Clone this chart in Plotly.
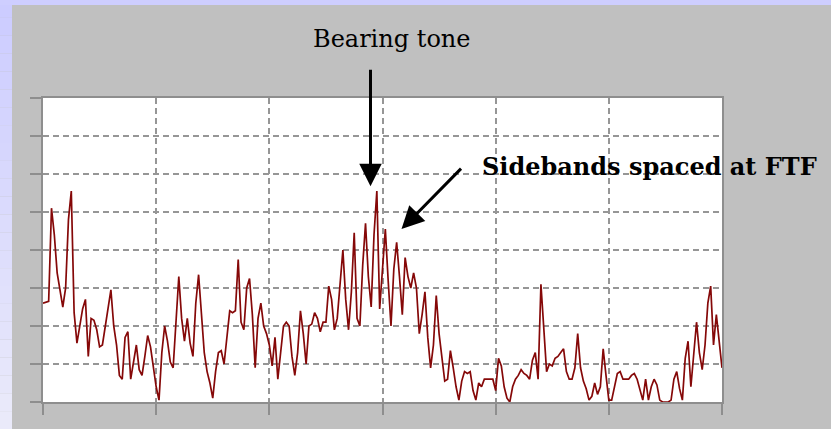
import plotly.graph_objects as go

# ---- data (amplitude in grid units, uniform frequency bins) ----
freq_step = 0.025
amp_part1 = [2.6, 2.62, 2.65, 5.1, 4.4, 3.4, 2.9, 2.5, 3.0, 4.8,
             5.55, 2.35, 1.55, 1.95, 2.45, 2.7, 1.2, 2.2, 2.15, 1.9,
             1.45, 1.5, 2.0, 2.5, 2.95, 2.0, 1.5, 0.7, 0.6, 1.7,
             1.85, 0.6, 1.0, 1.5, 0.85, 0.7, 1.2, 1.75, 1.45, 0.9,
             0.4, 0.05, 1.3, 2.0, 1.6, 1.05, 0.9, 2.1, 3.3, 2.2,
             1.6, 2.2, 1.55, 1.2, 2.6, 3.35, 2.3, 1.3, 0.8, 0.5]
amp_part2 = [0.1, 0.8, 1.3, 1.35, 1.0, 1.7, 2.4, 2.35, 2.4, 3.75,
             2.1, 1.9, 3.0, 3.25, 2.3, 0.9, 2.2, 2.6, 2.0, 1.8,
             1.5, 0.95, 1.7, 0.6, 1.35, 2.0, 2.1, 2.0, 1.2, 0.7,
             1.3, 2.4, 1.8, 1.0, 2.0, 2.05, 2.35, 2.2, 1.85, 2.1,
             2.1, 3.05, 2.7, 1.9, 2.2, 3.2, 4.0, 2.7, 1.9, 2.9,
             4.45, 2.2, 2.0, 3.6, 4.7, 3.3, 2.5, 4.4, 5.55, 2.45]
amp_part3 = [3.6, 4.55, 3.2, 2.0, 3.5, 4.2, 3.3, 2.3, 3.8, 3.3,
             3.0, 3.4, 3.0, 1.8, 2.3, 2.9, 1.7, 0.9, 1.5, 2.8,
             1.8, 1.2, 0.55, 0.6, 1.35, 0.9, 0.4, 0.05, 0.55, 0.8,
             0.75, 0.8, 0.3, 0.05, 0.5, 0.4, 0.6, 0.6, 0.6, 0.6,
             0.3, 1.15, 0.95, 0.4, 0.1, 0.0, 0.4, 0.6, 0.7, 0.85,
             0.75, 0.7, 0.6, 1.1, 1.3, 0.6, 3.1, 2.0, 0.8, 1.0]
amp_part4 = [0.95, 1.15, 1.2, 1.3, 1.4, 0.8, 0.6, 0.6, 0.9, 1.8,
             0.9, 0.55, 0.35, 0.05, 0.15, 0.5, 0.2, 0.4, 1.4, 0.7,
             0.05, 0.05, 0.4, 0.75, 0.8, 0.6, 0.6, 0.6, 0.7, 0.75,
             0.6, 0.35, 0.05, 0.6, 0.05, 0.4, 0.6, 0.45, 0.05, 0.0,
             0.0, 0.0, 0.05, 0.6, 0.8, 0.35, 0.05, 1.15, 1.6, 0.4,
             1.25, 2.1, 1.3, 0.85, 1.5, 2.6, 3.05, 1.5, 2.3, 1.6,
             0.9]

amplitude = amp_part1 + amp_part2 + amp_part3 + amp_part4
frequency = [i * freq_step for i in range(len(amplitude))]

label_tone = "Bearing tone"
label_sidebands = "Sidebands spaced at FTF"

fig = go.Figure()
fig.add_trace(go.Scatter(
    x=frequency, y=amplitude, mode="lines",
    line=dict(color="#850808", width=1.7),
    hoverinfo="skip", showlegend=False,
))

grid_col = "#969696"
axis_col = "#8e8e8e"
common_axis = dict(
    showgrid=True, gridcolor=grid_col, gridwidth=1.6, griddash="6px,4px",
    showline=True, linecolor=axis_col, linewidth=2, mirror=True,
    ticks="outside", ticklen=11, tickwidth=2, tickcolor=axis_col,
    showticklabels=False, zeroline=False, fixedrange=True,
)
fig.update_xaxes(range=[0, 6], dtick=1, tick0=0, **common_axis)
fig.update_yaxes(range=[0, 8], dtick=1, tick0=0, **common_axis)

W, H = 831, 429
ml, mr, mt, mb = 43, 109, 98, 27
pw, ph = W - ml - mr, H - mt - mb

def px2paper_x(px):
    return (px - ml) / pw

def px2paper_y(py):
    return (H - mb - py) / ph

# lavender frame (gradient approximated by bands)
shapes = []
nb = 24
top_c = (0xcc, 0xcc, 0xff)
bot_c = (0xea, 0xea, 0xfa)
for i in range(nb):
    t = i / (nb - 1)
    c = tuple(round(top_c[k] + (bot_c[k] - top_c[k]) * t) for k in range(3))
    y0 = i * H / nb
    y1 = (i + 1) * H / nb
    shapes.append(dict(type="rect", xref="paper", yref="paper",
                       x0=px2paper_x(0), x1=px2paper_x(12),
                       y0=px2paper_y(y1), y1=px2paper_y(y0),
                       fillcolor="rgb(%d,%d,%d)" % c, line=dict(width=0),
                       layer="below"))
shapes.append(dict(type="rect", xref="paper", yref="paper",
                   x0=px2paper_x(0), x1=px2paper_x(W),
                   y0=px2paper_y(5), y1=px2paper_y(0),
                   fillcolor="rgb(206,206,255)", line=dict(width=0),
                   layer="below"))

annotations = [
    dict(xref="x", yref="y", x=2.894, y=5.68, text="", showarrow=True,
         ax=0, ay=-118, arrowhead=2, arrowsize=1.5, arrowwidth=3,
         arrowcolor="black"),
    dict(xref="x", yref="y", x=3.168, y=4.55, text="", showarrow=True,
         ax=61, ay=-62, arrowhead=2, arrowsize=1.5, arrowwidth=3,
         arrowcolor="black"),
    dict(xref="paper", yref="paper", x=px2paper_x(392), y=px2paper_y(39),
         xanchor="center", yanchor="middle", showarrow=False,
         text=label_tone,
         font=dict(family="DejaVu Serif", size=24, color="black")),
    dict(xref="paper", yref="paper", x=px2paper_x(480), y=px2paper_y(166),
         xanchor="left", yanchor="middle", showarrow=False,
         text=label_sidebands,
         font=dict(family="DejaVu Serif", size=24, color="black",
                   weight="bold")),
]

fig.update_layout(
    width=W, height=H,
    margin=dict(l=ml, r=mr, t=mt, b=mb, pad=0),
    paper_bgcolor="#c0c0c0", plot_bgcolor="white",
    shapes=shapes, annotations=annotations,
    showlegend=False,
)

fig.write_html("out.html", config={"displayModeBar": False})
